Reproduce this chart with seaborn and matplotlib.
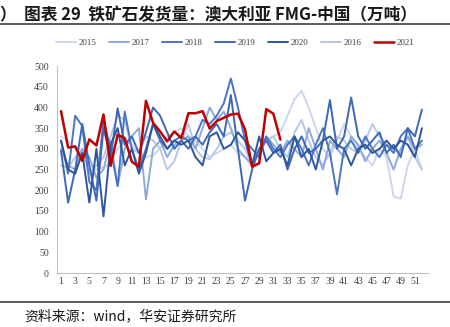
import numpy as np
import pandas as pd
import matplotlib
matplotlib.use("Agg")
import matplotlib.pyplot as plt
import seaborn as sns

weeks = list(range(1, 53))

y2015 = [330,320,300,280,260,250,255,265,300,320,310,290,280,285,300,330,340,350,330,320,
         300,280,290,300,310,290,280,270,300,320,330,340,380,420,440,400,350,300,280,320,
         360,330,300,280,260,300,280,185,180,260,300,250]
y2016 = [260,255,280,300,240,260,280,330,380,370,300,290,330,320,300,250,270,320,360,300,
         280,275,300,330,340,320,300,260,290,320,330,300,280,340,370,320,280,260,290,330,
         320,300,290,320,360,330,310,300,290,330,280,250]
y2017 = [300,260,250,300,280,230,250,320,210,300,330,350,178,300,320,280,310,320,330,300,
         350,400,370,390,350,300,280,260,300,330,310,290,320,300,280,350,300,250,320,300,
         280,330,310,270,300,320,290,250,300,330,300,310]
y2018 = [320,240,380,355,220,200,370,300,210,390,300,250,300,360,320,300,320,330,320,330,
         370,360,380,410,470,400,320,300,280,330,300,280,310,330,300,260,310,350,290,190,
         300,320,290,330,300,280,310,290,330,350,300,320]
y2019 = [295,170,250,360,260,175,350,280,398,310,330,290,340,400,380,340,300,320,300,330,
         310,340,360,330,430,300,175,250,300,320,290,310,250,300,330,290,300,320,418,300,
         330,424,330,300,320,340,290,310,280,350,330,395]
y2020 = [320,250,240,290,170,300,137,310,350,260,300,240,290,360,330,300,320,310,320,280,
         260,330,340,300,310,340,320,260,330,270,290,300,260,330,280,300,250,320,330,310,
         300,260,300,310,290,300,320,300,320,310,280,350]
y2021 = [391,303,306,271,323,308,383,259,334,326,269,257,416,363,342,318,342,326,386,386,
         391,349,367,375,383,385,347,257,265,396,385,322]

years = ["2015", "2017", "2018", "2019", "2020", "2016", "2021"]
series = {"2015": y2015, "2016": y2016, "2017": y2017, "2018": y2018,
          "2019": y2019, "2020": y2020, "2021": y2021}
colors = {"2015": "#cdd6ec", "2017": "#8ea9db", "2018": "#4a75c4",
          "2019": "#3d68b8", "2020": "#2e569c", "2016": "#b7c8e8", "2021": "#c00000"}

rows = []
for yr, vals in series.items():
    for w, v in zip(weeks, vals):
        rows.append({"week": w, "value": v, "year": yr})
df = pd.DataFrame(rows)

sns.set_theme(style="white")
plt.rcParams['font.family'] = ['Noto Sans CJK SC', 'DejaVu Sans']

fig = plt.figure(figsize=(4.5, 3.27), dpi=100)
ax = fig.add_axes([0.127, 0.165, 0.824, 0.633])

draw_order = ["2015", "2016", "2017", "2018", "2019", "2020", "2021"]
for yr in draw_order:
    sub = df[df.year == yr]
    sns.lineplot(data=sub, x="week", y="value", ax=ax, color=colors[yr],
                 linewidth=1.8 if yr == "2021" else 1.4, label=yr, legend=False)

ax.set_xlim(0.45, 52.85)
ax.set_ylim(0, 500)
ax.set_yticks(range(0, 501, 50))
ax.set_xticks(range(1, 52, 2))
ax.set_xlabel("")
ax.set_ylabel("")
for s in ["top", "right"]:
    ax.spines[s].set_visible(False)
for s in ["left", "bottom"]:
    ax.spines[s].set_color("#bfbfbf")
    ax.spines[s].set_linewidth(0.8)
ax.tick_params(axis="both", length=0, pad=3, labelsize=7, colors="#404040")
ax.tick_params(axis="y", length=3, width=0.8, color="#bfbfbf", direction="out")
for lab in ax.get_xticklabels() + ax.get_yticklabels():
    lab.set_fontfamily("Liberation Serif")

handles = [plt.Line2D([0], [0], color=colors[y], lw=1.8 if y == "2021" else 1.4) for y in years]
leg = fig.legend(handles, years, loc="center", bbox_to_anchor=(0.523, 0.868), ncol=7,
                 frameon=False, handlelength=2.2, handletextpad=0.3,
                 columnspacing=1.4, prop={"family": "Liberation Serif", "size": 6.5})
for t in leg.get_texts():
    t.set_color("#404040")

fig.text(0.0, 0.955, "）  图表 29  铁矿石发货量：澳大利亚 FMG-中国（万吨）",
         fontsize=12, fontweight="bold", ha="left", va="center", color="#1a1a1a")
fig.add_artist(plt.Line2D([0, 1], [0.927, 0.927], color="#404040", lw=1.2,
                          transform=fig.transFigure))
fig.add_artist(plt.Line2D([0, 1], [0.076, 0.076], color="#404040", lw=1.2,
                          transform=fig.transFigure))
fig.text(0.055, 0.033, "资料来源：wind，华安证券研究所", fontsize=10,
         ha="left", va="center", color="#1a1a1a")

fig.savefig("out.png", dpi=100)
